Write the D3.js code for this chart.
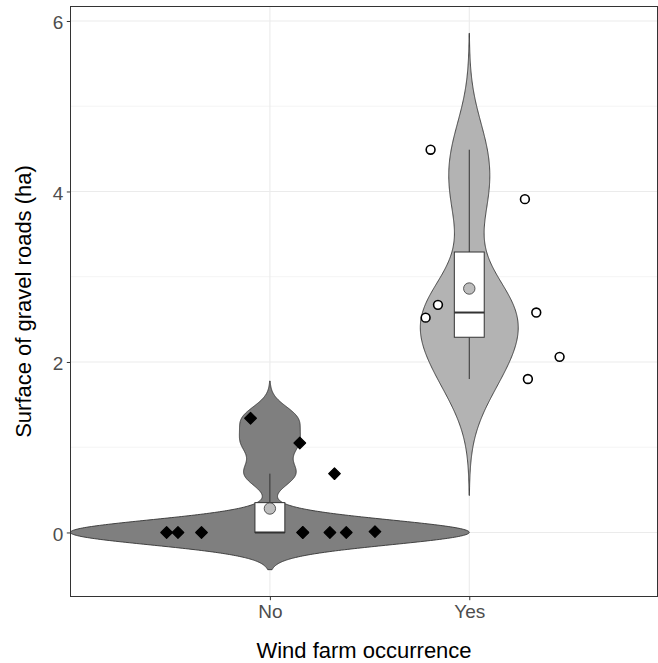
<!DOCTYPE html>
<html>
<head>
<meta charset="utf-8">
<script src="https://cdn.jsdelivr.net/npm/d3@7"></script>
<style>
  body { margin: 0; background: #fff; }
  svg { display: block; font-family: "Liberation Sans", Arial, sans-serif; }
</style>
</head>
<body>
<svg id="chart" width="658" height="663"></svg>
<script>
// Categories on the x axis
const categories = ["No", "Yes"];
// Surface of gravel roads (ha) per site, with horizontal jitter offsets
const valuesNo  = [1.34, 1.05, 0.69, 0, 0, 0, 0, 0, 0, 0.01, 0];
const jitterNo  = [-0.097, 0.150, 0.324, -0.518, -0.461, -0.343, 0.165, 0.301, 0.383, 0.527, 0.165];
const valuesYes = [4.49, 3.91, 2.67, 2.52, 2.58, 2.06, 1.80];
const jitterYes = [-0.194, 0.279, -0.157, -0.219, 0.336, 0.453, 0.294];
// Axis ticks
const yTicks = [0, 2, 4, 6];
const yMinorTicks = [1, 3, 5];
const xLimits = [0, 2.944];

const groups = [
  { name: categories[0], pos: 1, values: valuesNo,  jitter: jitterNo,  fill: "#7f7f7f", pointStyle: "diamond" },
  { name: categories[1], pos: 2, values: valuesYes, jitter: jitterYes, fill: "#b3b3b3", pointStyle: "circle" }
];

// Bandwidth rule of thumb (Silverman, as in bw.nrd0)
function bwNrd0(v) {
  const s = d3.deviation(v);
  const sorted = v.slice().sort(d3.ascending);
  const iqr = d3.quantileSorted(sorted, 0.75) - d3.quantileSorted(sorted, 0.25);
  let lo = Math.min(s, iqr / 1.34);
  if (!(lo > 0)) lo = s || 1;
  return 0.9 * lo * Math.pow(v.length, -0.2);
}

// Gaussian kernel density over [min - 3bw, max + 3bw]
function kde(v, bw) {
  const lo = d3.min(v) - 3 * bw, hi = d3.max(v) + 3 * bw, n = 512;
  const c = 1 / (Math.sqrt(2 * Math.PI) * bw * v.length);
  return d3.range(n).map(i => {
    const y = lo + (hi - lo) * i / (n - 1);
    const d = c * d3.sum(v, x => Math.exp(-0.5 * ((y - x) / bw) ** 2));
    return { y, d };
  });
}

groups.forEach(g => {
  const s = g.values.slice().sort(d3.ascending);
  g.bw = bwNrd0(g.values);
  g.dens = kde(g.values, g.bw);
  g.q1 = d3.quantileSorted(s, 0.25);
  g.med = d3.quantileSorted(s, 0.5);
  g.q3 = d3.quantileSorted(s, 0.75);
  const iqr = g.q3 - g.q1;
  g.wLo = d3.min(s.filter(v => v >= g.q1 - 1.5 * iqr));
  g.wHi = d3.max(s.filter(v => v <= g.q3 + 1.5 * iqr));
  g.mean = d3.mean(g.values);
});

// Area scaling: widest violin spans the full width
const maxDens = d3.max(groups, g => d3.max(g.dens, p => p.d));
const violinWidth = 2, boxWidth = 0.15;

const yExt = [d3.min(groups, g => g.dens[0].y), d3.max(groups, g => g.dens[g.dens.length - 1].y)];
const yPad = (yExt[1] - yExt[0]) * 0.05;

const panel = { left: 70.5, right: 657.5, top: 6.5, bottom: 596.5 };
const x = d3.scaleLinear().domain(xLimits).range([panel.left, panel.right]);
const y = d3.scaleLinear().domain([yExt[0] - yPad, yExt[1] + yPad]).range([panel.bottom, panel.top]);

const svg = d3.select("#chart");
svg.append("rect").attr("width", 658).attr("height", 663).attr("fill", "#fff");

svg.append("clipPath").attr("id", "clip")
  .append("rect").attr("x", panel.left).attr("y", panel.top)
  .attr("width", panel.right - panel.left).attr("height", panel.bottom - panel.top);

// Grid lines
const grid = svg.append("g");
grid.selectAll(".minor").data(yMinorTicks).join("line")
  .attr("x1", panel.left).attr("x2", panel.right)
  .attr("y1", d => y(d)).attr("y2", d => y(d))
  .attr("stroke", "#ebebeb").attr("stroke-width", 0.6);
grid.selectAll(".major").data(yTicks).join("line")
  .attr("x1", panel.left).attr("x2", panel.right)
  .attr("y1", d => y(d)).attr("y2", d => y(d))
  .attr("stroke", "#ebebeb").attr("stroke-width", 1.1);
grid.selectAll(".vmajor").data(groups).join("line")
  .attr("x1", d => x(d.pos)).attr("x2", d => x(d.pos))
  .attr("y1", panel.top).attr("y2", panel.bottom)
  .attr("stroke", "#ebebeb").attr("stroke-width", 1.1);

const plot = svg.append("g").attr("clip-path", "url(#clip)");

// Violins
groups.forEach(g => {
  const half = violinWidth / 2;
  const area = d3.area()
    .y(p => y(p.y))
    .x0(p => x(g.pos - (p.d / maxDens) * half))
    .x1(p => x(g.pos + (p.d / maxDens) * half))
    .curve(d3.curveLinear);
  plot.append("path").datum(g.dens)
    .attr("d", area)
    .attr("fill", g.fill)
    .attr("stroke", "#333")
    .attr("stroke-width", 0.9);
});

// Boxplots
groups.forEach(g => {
  const b = plot.append("g");
  b.append("line").attr("x1", x(g.pos)).attr("x2", x(g.pos))
    .attr("y1", y(g.q3)).attr("y2", y(g.wHi)).attr("stroke", "#333").attr("stroke-width", 1);
  b.append("line").attr("x1", x(g.pos)).attr("x2", x(g.pos))
    .attr("y1", y(g.q1)).attr("y2", y(g.wLo)).attr("stroke", "#333").attr("stroke-width", 1);
  b.append("rect")
    .attr("x", x(g.pos - boxWidth / 2)).attr("width", x(g.pos + boxWidth / 2) - x(g.pos - boxWidth / 2))
    .attr("y", y(g.q3)).attr("height", y(g.q1) - y(g.q3))
    .attr("fill", "#fff").attr("stroke", "#333").attr("stroke-width", 1);
  b.append("line")
    .attr("x1", x(g.pos - boxWidth / 2)).attr("x2", x(g.pos + boxWidth / 2))
    .attr("y1", y(g.med)).attr("y2", y(g.med))
    .attr("stroke", "#333").attr("stroke-width", 2);
});

// Jittered observations
const diamondType = d3.symbolDiamond2 || d3.symbolDiamond;
groups.forEach(g => {
  const pts = g.values.map((v, i) => ({ v, j: g.jitter[i] }));
  if (g.pointStyle === "diamond") {
    plot.append("g").selectAll("path").data(pts).join("path")
      .attr("d", d3.symbol(diamondType, 86))
      .attr("transform", d => `translate(${x(g.pos + d.j)},${y(d.v)})`)
      .attr("fill", "#000").attr("stroke", "#000").attr("stroke-width", 1.2)
      .attr("stroke-linejoin", "round");
  } else {
    plot.append("g").selectAll("circle").data(pts).join("circle")
      .attr("cx", d => x(g.pos + d.j)).attr("cy", d => y(d.v)).attr("r", 4.4)
      .attr("fill", "#fff").attr("stroke", "#000").attr("stroke-width", 1.6);
  }
});

// Group means
plot.append("g").selectAll("circle").data(groups).join("circle")
  .attr("cx", g => x(g.pos)).attr("cy", g => y(g.mean)).attr("r", 5.7)
  .attr("fill", "#bdbdbd").attr("stroke", "#333").attr("stroke-width", 0.8);

// Panel border
svg.append("rect")
  .attr("x", panel.left).attr("y", panel.top)
  .attr("width", panel.right - panel.left).attr("height", panel.bottom - panel.top)
  .attr("fill", "none").attr("stroke", "#333").attr("stroke-width", 1);

// Axes
const yAxis = svg.append("g").attr("transform", `translate(${panel.left},0)`)
  .call(d3.axisLeft(y).tickValues(yTicks).tickSize(3.7).tickPadding(3.5).tickFormat(d3.format("d")));
const xAxis = svg.append("g").attr("transform", `translate(0,${panel.bottom})`)
  .call(d3.axisBottom(x).tickValues(groups.map(g => g.pos)).tickSize(3.7).tickPadding(4.8)
    .tickFormat((d, i) => categories[i]));
[yAxis, xAxis].forEach(a => {
  a.select(".domain").remove();
  a.selectAll(".tick line").attr("stroke", "#333").attr("stroke-width", 1);
  a.selectAll(".tick text").attr("fill", "#4d4d4d").attr("font-size", 19)
    .attr("font-family", "'Liberation Sans', Arial, sans-serif");
});
yAxis.selectAll(".tick text").attr("dy", "0.4em");

// Axis titles
svg.append("text")
  .attr("x", (panel.left + panel.right) / 2).attr("y", 658)
  .attr("text-anchor", "middle").attr("font-size", 22).attr("fill", "#000")
  .text("Wind farm occurrence");
svg.append("text")
  .attr("transform", `translate(30.5,${(panel.top + panel.bottom) / 2}) rotate(-90)`)
  .attr("text-anchor", "middle").attr("font-size", 22).attr("fill", "#000")
  .text("Surface of gravel roads (ha)");
</script>
</body>
</html>
